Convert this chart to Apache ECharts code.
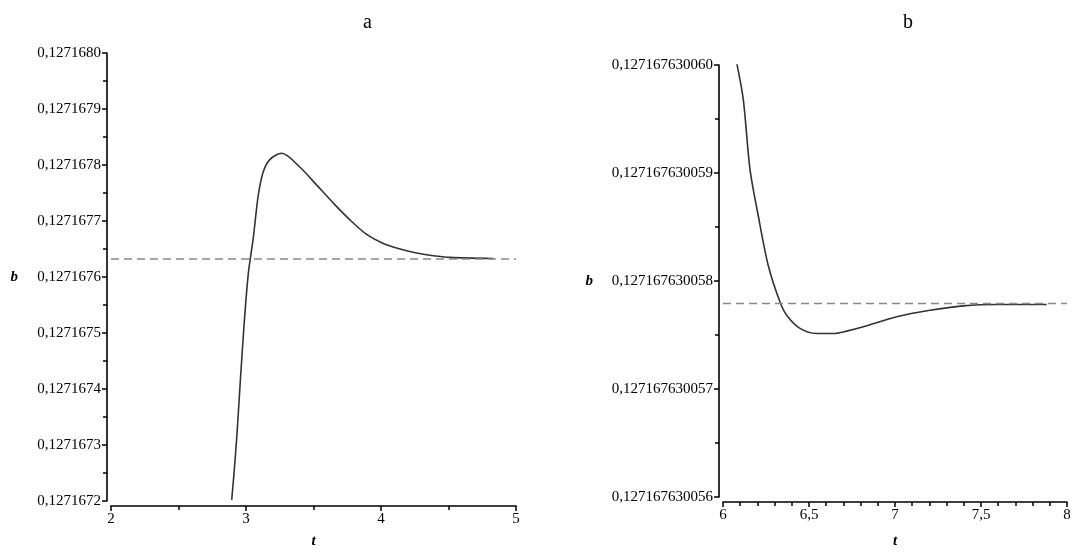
<!DOCTYPE html>
<html>
<head>
<meta charset="utf-8">
<script src="https://cdn.jsdelivr.net/npm/echarts@6/dist/echarts.min.js"></script>
<style>
  html, body { margin: 0; padding: 0; background: #fff; }
  #chart { width: 1074px; height: 554px; }
</style>
</head>
<body>
<div id="chart"></div>
<script>
// panel a
const tA = [2.894, 2.911, 2.933, 2.956, 2.985, 3.017, 3.054, 3.091, 3.128, 3.178, 3.264,
  3.400, 3.524, 3.647, 3.770, 3.894, 4.017, 4.141, 4.264, 4.387, 4.511, 4.832];
const bA = [0.127167202, 0.127167249, 0.127167319, 0.127167407, 0.127167512, 0.127167606,
  0.127167670, 0.127167746, 0.127167788, 0.127167810, 0.127167821, 0.127167796,
  0.127167764, 0.127167732, 0.127167702, 0.127167676, 0.127167660, 0.127167650,
  0.127167643, 0.127167638, 0.127167635, 0.127167633];
const limitA = 0.127167632;
const xTicksA = [2, 5, 1];
const yTicksA = [0.1271672, 0.127168, 0.0000001];

// panel b
const tB = [6.080, 6.118, 6.157, 6.205, 6.263, 6.331, 6.370, 6.448, 6.545, 6.641, 6.719,
  6.816, 7.010, 7.203, 7.397, 7.591, 7.882];
const bB = [0.127167630060017, 0.127167630059679, 0.127167630059034, 0.127167630058604,
  0.127167630058144, 0.127167630057807, 0.127167630057683, 0.127167630057561,
  0.127167630057514, 0.127167630057514, 0.127167630057536, 0.127167630057576,
  0.127167630057669, 0.127167630057729, 0.12716763005777, 0.127167630057782,
  0.127167630057782];
const limitB = 0.127167630057791;
const xTicksB = [6, 8, 0.5];
const yTicksB = [0.127167630056, 0.12716763006, 0.000000000001];

const font = 'Liberation Serif';
const axisLine = { lineStyle: { color: '#000', width: 1.6 } };

function xAxis(idx, ticks, minorSplit, nameGap) {
  return {
    type: 'value', gridIndex: idx,
    min: ticks[0], max: ticks[1], interval: ticks[2],
    name: 't', nameLocation: 'middle', nameGap: nameGap,
    nameTextStyle: { fontFamily: font, fontStyle: 'italic', fontWeight: 'bold', fontSize: 15, color: '#000' },
    offset: 5,
    axisLine: axisLine,
    axisTick: { length: 5, lineStyle: { color: '#000', width: 1.5 } },
    minorTick: { show: true, splitNumber: minorSplit, length: 4, lineStyle: { color: '#000', width: 1.5 } },
    splitLine: { show: false },
    axisLabel: { fontFamily: font, fontSize: 15, color: '#000', margin: 6,
      formatter: v => String(+v.toFixed(2)).replace('.', ',') }
  };
}

function yAxis(idx, ticks, digits, nameGap) {
  return {
    type: 'value', gridIndex: idx,
    min: ticks[0], max: ticks[1], interval: ticks[2],
    name: 'b', nameLocation: 'middle', nameRotate: 0, nameGap: nameGap,
    nameTextStyle: { fontFamily: font, fontStyle: 'italic', fontWeight: 'bold', fontSize: 15, color: '#000' },
    offset: 4,
    axisLine: axisLine,
    axisTick: { length: 5, lineStyle: { color: '#000', width: 1.5 } },
    minorTick: { show: true, splitNumber: 2, length: 4, lineStyle: { color: '#000', width: 1.5 } },
    splitLine: { show: false },
    axisLabel: { fontFamily: font, fontSize: 15, color: '#000', margin: 6,
      formatter: v => v.toFixed(digits).replace('.', ',') }
  };
}

const chart = echarts.init(document.getElementById('chart'));
chart.setOption({
  backgroundColor: '#fff',
  animation: false,
  title: [
    { text: 'a', left: 358, top: 8, textStyle: { fontFamily: font, fontWeight: 'normal', fontSize: 20, color: '#000' } },
    { text: 'b', left: 898, top: 8, textStyle: { fontFamily: font, fontWeight: 'normal', fontSize: 20, color: '#000' } }
  ],
  grid: [
    { left: 111, right: 558, top: 53, bottom: 47 },
    { left: 723, right: 7, top: 65, bottom: 55 }
  ],
  xAxis: [xAxis(0, xTicksA, 2, 28), xAxis(1, xTicksB, 5, 32)],
  yAxis: [yAxis(0, yTicksA, 7, 89), yAxis(1, yTicksB, 12, 126)],
  series: [
    {
      type: 'line', xAxisIndex: 0, yAxisIndex: 0, showSymbol: false,
      smooth: 0.3,
      lineStyle: { color: '#333', width: 1.6 },
      data: tA.map((t, i) => [t, bA[i]])
    },
    {
      type: 'line', xAxisIndex: 0, yAxisIndex: 0, showSymbol: false,
      lineStyle: { color: '#888', width: 1.5, type: [8, 5] },
      data: [[xTicksA[0], limitA], [xTicksA[1], limitA]]
    },
    {
      type: 'line', xAxisIndex: 1, yAxisIndex: 1, showSymbol: false,
      smooth: 0.3,
      lineStyle: { color: '#333', width: 1.6 },
      data: tB.map((t, i) => [t, bB[i]])
    },
    {
      type: 'line', xAxisIndex: 1, yAxisIndex: 1, showSymbol: false,
      lineStyle: { color: '#888', width: 1.5, type: [8, 5] },
      data: [[xTicksB[0], limitB], [xTicksB[1], limitB]]
    }
  ]
});
</script>
</body>
</html>
